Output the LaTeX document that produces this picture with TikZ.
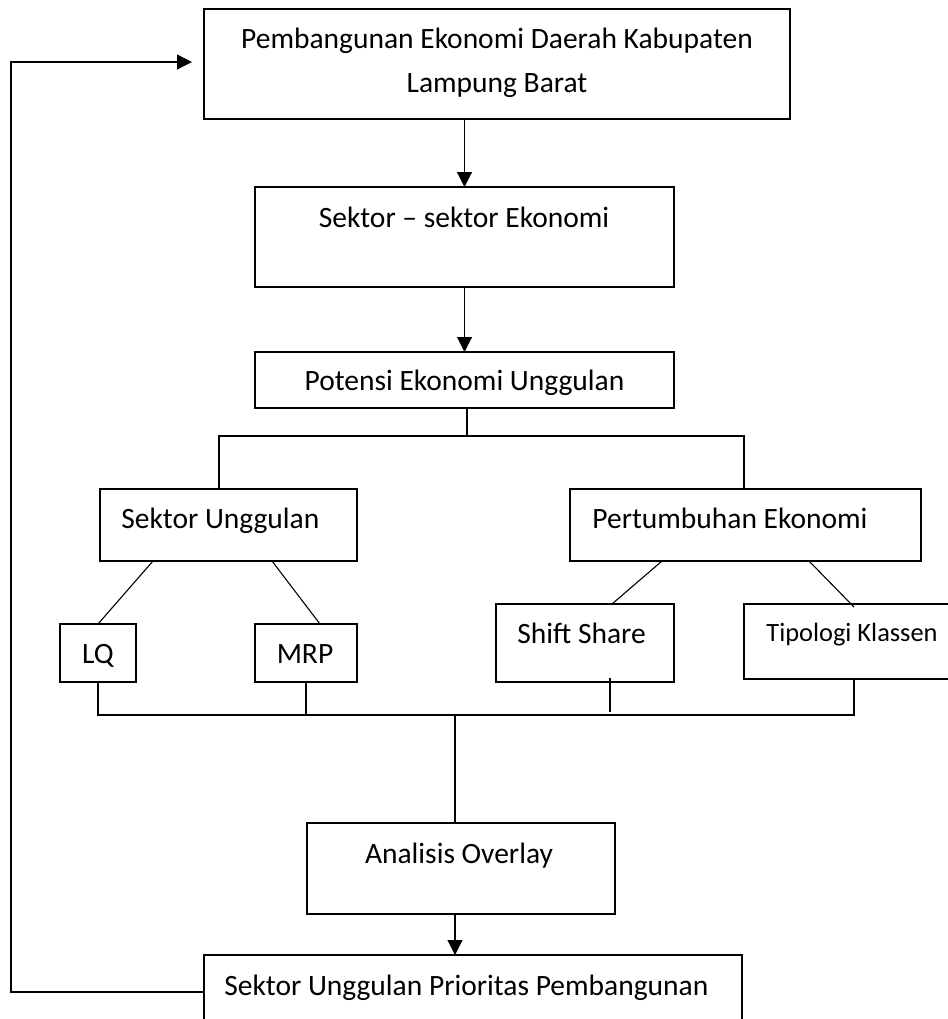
\documentclass[tikz,border=0pt]{standalone}
\usepackage{fontspec}
\setmainfont{Carlito}
\usepackage{tikz}
\usetikzlibrary{arrows.meta}

\tikzset{
  kotak/.style={draw, line width=0.75pt, inner sep=0pt, outer sep=0pt},
  garis/.style={line width=0.55pt},
  panah/.style={garis, -{Triangle[length=7.5pt,width=7.5pt]}},
  teks/.style={inner sep=0pt, font=\fontsize{14.75pt}{17pt}\selectfont},
  teks kecil/.style={inner sep=0pt, font=\fontsize{13.2pt}{15pt}\selectfont}
}

\begin{document}
\begin{tikzpicture}[x=0.5pt,y=-0.5pt]

\useasboundingbox (0,0) rectangle (948,1019);
\clip (0,0) rectangle (948,1019);

% kotak-kotak
\node[kotak, minimum width=293pt, minimum height=55pt] (atas) at (497,64) {};
\node[kotak, minimum width=209.5pt, minimum height=50pt] (sektor) at (464.5,237) {};
\node[kotak, minimum width=209.5pt, minimum height=28pt] (potensi) at (464.5,380) {};
\node[kotak, minimum width=128.5pt, minimum height=36pt] (unggul) at (228.5,525) {};
\node[kotak, minimum width=175.5pt, minimum height=36pt] (tumbuh) at (745.5,525) {};
\node[kotak, minimum width=38pt, minimum height=29pt] (lq) at (98,653) {};
\node[kotak, minimum width=51pt, minimum height=29pt] (mrp) at (306,653) {};
\node[kotak, minimum width=89pt, minimum height=39pt] (shift) at (585,643) {};
\node[kotak, minimum width=108pt, minimum height=37.5pt] (klassen) at (852,641.5) {};
\node[kotak, minimum width=154pt, minimum height=45.5pt] (overlay) at (461,868.5) {};
\node[kotak, minimum width=269pt, minimum height=42.5pt] (prioritas) at (473,997.5) {};

% tulisan
\node[teks, anchor=base] (atas-1) at (497,48) {Pembangunan Ekonomi Daerah Kabupaten};
\node[teks, anchor=base] (atas-2) at (497,92) {Lampung Barat};
\node[teks, anchor=base] (sektor-t) at (464,227) {Sektor -- sektor Ekonomi};
\node[teks, anchor=base] (potensi-t) at (464.5,390) {Potensi Ekonomi Unggulan};
\node[teks, anchor=base west] (unggul-t) at (121,528) {Sektor Unggulan};
\node[teks, anchor=base west] (tumbuh-t) at (592,528) {Pertumbuhan Ekonomi};
\node[teks, anchor=base] (lq-t) at (98,663) {LQ};
\node[teks, anchor=base] (mrp-t) at (305,663) {MRP};
\node[teks, anchor=base west] (shift-t) at (517,643) {Shift Share};
\node[teks kecil, anchor=base west] (klassen-t) at (766,641) {Tipologi Klassen};
\node[teks, anchor=base] (overlay-t) at (459,863) {Analisis Overlay};
\node[teks, anchor=base west] (prioritas-t) at (224,995) {Sektor Unggulan Prioritas Pembangunan};

% alur atas
\draw[panah] (sektor.north |- atas.south) -- (sektor.north);
\draw[panah] (sektor.south) -- (potensi.north);

% cabang
\coordinate (cabang) at (467,436);
\coordinate (cabang-kiri) at (219,436);
\coordinate (cabang-kanan) at (744,436);
\draw[garis] (cabang |- potensi.south) -- (cabang);
\draw[garis] (cabang-kiri |- unggul.north) -- (cabang-kiri) -- (cabang-kanan) -- (cabang-kanan |- tumbuh.north);

\draw[garis] ([shift={(53,0)}]unggul.south west) -- (lq.north);
\draw[garis] ([shift={(-85,0)}]unggul.south east) -- ([shift={(14,0)}]mrp.north);
\draw[garis] ([shift={(92,0)}]tumbuh.south west) -- ([shift={(116,0)}]shift.north west);
\draw[garis] ([shift={(-112,0)}]tumbuh.south east) -- ([shift={(110,3)}]klassen.north west);

% gabung ke overlay
\coordinate (bus) at (455,715);
\draw[garis] (lq.south) -- (lq.south |- bus) -- ([shift={(2,0)}]klassen.south |- bus) -- ([shift={(2,0)}]klassen.south);
\draw[garis] (mrp.south) -- (mrp.south |- bus);
\draw[garis] ([shift={(25,-4)}]shift.south) -- ([shift={(25,-3)}]shift.south |- bus);
\draw[garis] (bus) -- (bus |- overlay.north);
\draw[panah] (bus |- overlay.south) -- (bus |- prioritas.north);

% umpan balik
\coordinate (balik) at (11,992);
\draw[panah] ([shift={(0,-5.5)}]prioritas.west) -- (balik) |- ([shift={(-12,-2)}]atas.west);

\end{tikzpicture}
\end{document}
